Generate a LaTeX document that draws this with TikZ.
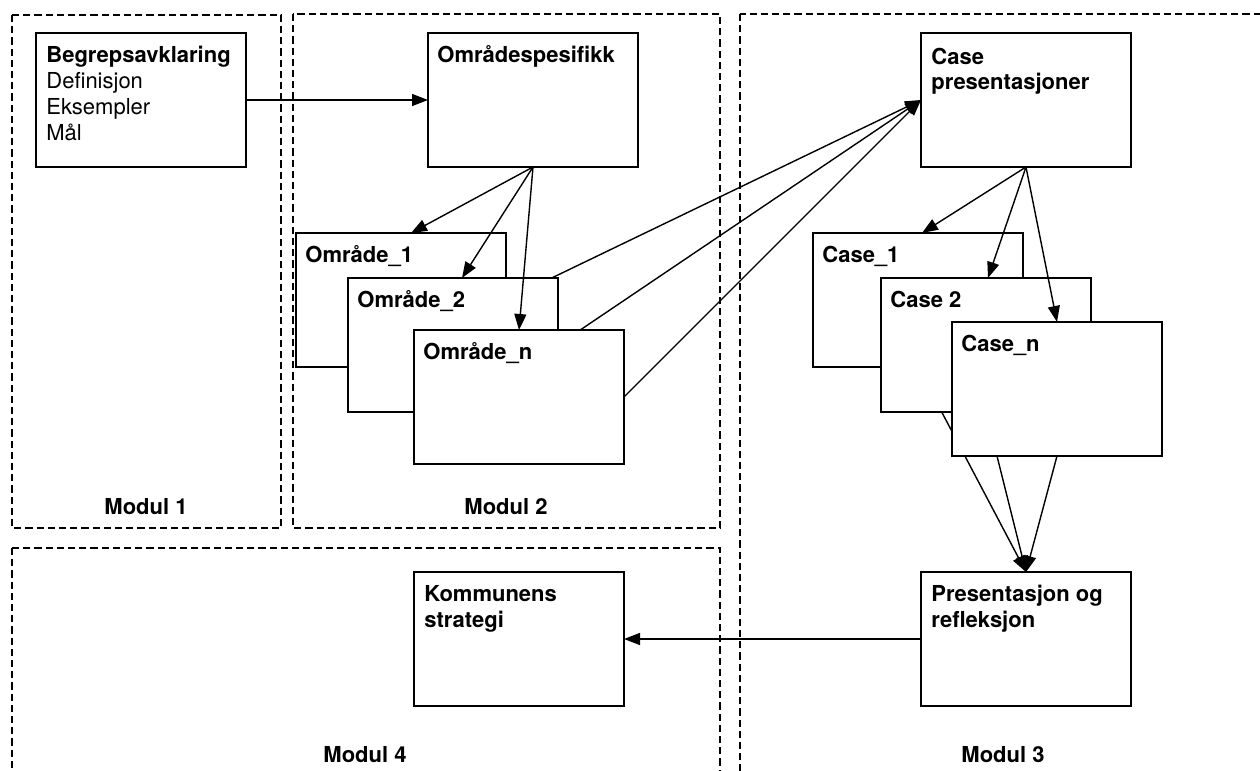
\documentclass[tikz,border=0pt]{standalone}
\usepackage{fontspec}
\setmainfont{TeX Gyre Heros}
\usetikzlibrary{arrows.meta,calc,backgrounds}
\begin{document}
\begin{tikzpicture}[x=0.5pt,y=-0.5pt,>={Triangle[length=8pt,width=6pt]},line join=miter,
	modul/.style={draw,dash pattern=on 3.6pt off 2pt,line width=0.7pt},
	boks/.style={draw,fill=white,line width=0.8pt,minimum width=105pt,minimum height=67pt,anchor=north west,inner sep=0pt,outer sep=0pt},
	tekst/.style={anchor=base west,align=left,inner sep=0pt,font=\fontsize{11}{13}\selectfont\bfseries},
	modtekst/.style={anchor=base,inner sep=0pt,font=\fontsize{11}{13}\selectfont\bfseries},
	pil/.style={->,line width=0.7pt}]
	\clip (0,0) rectangle (1260,771);
	\draw[modul] (12,15) rectangle (281,528);
	\draw[modul] (293,14) rectangle (720,528);
	\draw[modul] (740,14) rectangle (1266,790);
	\draw[modul] (12,548) rectangle (720,790);
	\node[modtekst] (m1) at (146,514) {Modul 1};
	\node[modtekst] (m2) at (506,514) {Modul 2};
	\node[modtekst] (m3) at (1003,762) {Modul 3};
	\node[modtekst] (m4) at (365,762) {Modul 4};
	\node[boks] (begrep) at (36,33) {};
	\node[boks] (omrspes) at (428,33) {};
	\node[boks] (omr1) at (296,233) {};
	\node[boks] (omr2) at (348,278) {};
	\node[boks] (omrn) at (414,330) {};
	\node[boks] (casepres) at (921,33) {};
	\node[boks] (case1) at (813,233) {};
	\node[boks] (case2) at (881,278) {};
	\node[boks] (casen) at (952,322) {};
	\node[boks] (presref) at (921,572) {};
	\node[boks] (kommune) at (414,572) {};
	\node[tekst] (begrept) at ($(begrep.north west)+(10,107)$) {Begrepsavklaring\\\mdseries Definisjon\\\mdseries Eksempler\\\mdseries Mål};
	\node[tekst] (omrspest) at ($(omrspes.north west)+(9,29)$) {Områdespesifikk};
	\node[tekst] (omr1t) at ($(omr1.north west)+(9,29)$) {Område\_1};
	\node[tekst] (omr2t) at ($(omr2.north west)+(9,29)$) {Område\_2};
	\node[tekst] (omrnt) at ($(omrn.north west)+(9,29)$) {Område\_n};
	\node[tekst] (casepret) at ($(casepres.north west)+(10,57)$) {Case\\presentasjoner};
	\node[tekst] (case1t) at ($(case1.north west)+(9,29)$) {Case\_1};
	\node[tekst] (case2t) at ($(case2.north west)+(9,29)$) {Case 2};
	\node[tekst] (casent) at ($(casen.north west)+(9,29)$) {Case\_n};
	\node[tekst] (presreft) at ($(presref.north west)+(10,55)$) {Presentasjon og\\refleksjon};
	\node[tekst] (kommunet) at ($(kommune.north west)+(10,55)$) {Kommunens\\strategi};
	\begin{pgfonlayer}{background}
	\foreach \k in {omr1,omr2,omrn}
	\draw[pil] (\k.east)--(casepres.west);
	\foreach \k in {case1,case2,casen}
	\draw[pil] (\k.south)--(presref.north);
	\end{pgfonlayer}
	\draw[pil] (begrep.east)--(omrspes.west);
	\draw[pil] (omrspes.south)--($(omr1.north)+(10,0)$);
	\draw[pil] (omrspes.south)--($(omr2.north)+(9,0)$);
	\draw[pil] (omrspes.south)--(omrn.north);
	\foreach \k/\d in {case1/4,case2/2,casen/0}
	\draw[pil] (casepres.south)--($(\k.north)+(\d,0)$);
	\draw[pil] (presref.west)--(kommune.east);
\end{tikzpicture}
\end{document}
